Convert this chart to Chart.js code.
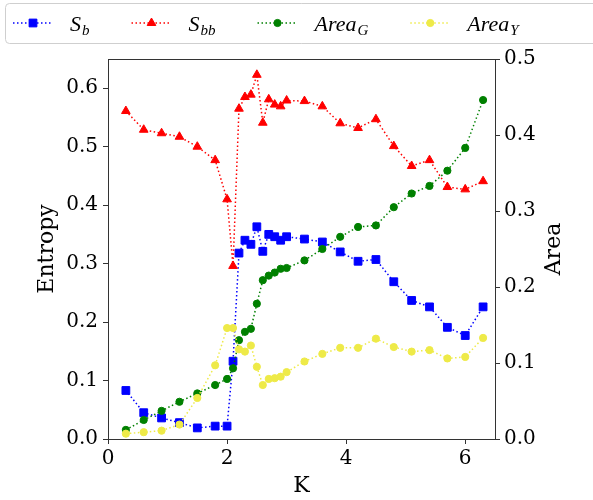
<!DOCTYPE html>
<html>
<head>
<meta charset="utf-8">
<script src="https://cdn.jsdelivr.net/npm/chart.js@4"></script>
<style>
  html, body { margin: 0; padding: 0; background: #fff; }
  #wrap { width: 593px; height: 500px; }
</style>
</head>
<body>
<div id="wrap"><canvas id="chart" width="593" height="500"></canvas></div>
<script>
// K values (x axis)
const kValues = [0.3, 0.6, 0.9, 1.2, 1.5, 1.8, 2.0, 2.1, 2.2, 2.3, 2.4, 2.5, 2.6, 2.7,
  2.8, 2.9, 3.0, 3.3, 3.6, 3.9, 4.2, 4.5, 4.8, 5.1, 5.4, 5.7, 6.0, 6.3];

// entropy series (left axis)
const entropyB = [0.083, 0.045, 0.036, 0.028, 0.019, 0.022, 0.022, 0.133, 0.318, 0.340,
  0.333, 0.363, 0.321, 0.350, 0.346, 0.340, 0.346, 0.342, 0.337, 0.320, 0.304, 0.307,
  0.269, 0.237, 0.226, 0.191, 0.177, 0.226];
const entropyBB = [0.561, 0.529, 0.523, 0.517, 0.500, 0.477, 0.410, 0.296, 0.565, 0.585,
  0.589, 0.623, 0.541, 0.581, 0.572, 0.569, 0.579, 0.578, 0.569, 0.540, 0.532, 0.547,
  0.501, 0.467, 0.477, 0.431, 0.427, 0.441];

// area series (right axis)
const areaG = [0.012, 0.025, 0.037, 0.049, 0.060, 0.071, 0.079, 0.093, 0.130, 0.141,
  0.145, 0.178, 0.209, 0.215, 0.219, 0.224, 0.225, 0.235, 0.250, 0.266, 0.279, 0.281,
  0.305, 0.323, 0.333, 0.353, 0.383, 0.446];
const areaY = [0.007, 0.009, 0.011, 0.019, 0.054, 0.097, 0.146, 0.146, 0.118, 0.115,
  0.123, 0.095, 0.071, 0.079, 0.080, 0.082, 0.088, 0.102, 0.112, 0.120, 0.120, 0.132,
  0.121, 0.115, 0.117, 0.106, 0.108, 0.133];

// tick labels
const kTicks = [0, 2, 4, 6];
const entropyTicks = [0.0, 0.1, 0.2, 0.3, 0.4, 0.5, 0.6];
const areaTicks = [0.0, 0.1, 0.2, 0.3, 0.4, 0.5];

// legend names: [base, subscript]
const seriesNames = [['S', 'b'], ['S', 'bb'], ['Area', 'G'], ['Area', 'Y']];

const axisColor = '#333';
const serif = "'DejaVu Serif', serif";

const pts = ys => kValues.map((k, i) => ({ x: k, y: ys[i] }));

function series(ys, name, color, style, radius, axis, order) {
  return {
    label: name.join('_'),
    name: name,
    data: pts(ys),
    yAxisID: axis,
    order: order,
    borderColor: color,
    backgroundColor: color,
    borderWidth: 1.5,
    borderDash: [1.5, 2.5],
    pointStyle: style,
    pointRadius: radius,
    pointHoverRadius: radius,
    pointBorderWidth: 1,
    pointBorderColor: color,
    pointBackgroundColor: color,
    tension: 0
  };
}

// fixed ticks from the arrays above
const fixTicks = list => scale => { scale.ticks = list.map(v => ({ value: v })); };

// top spine, right axis title, legend
const extras = {
  id: 'extras',
  afterDraw(chart) {
    const { ctx, chartArea: a } = chart;
    ctx.save();

    // top spine
    ctx.strokeStyle = axisColor;
    ctx.lineWidth = 1;
    ctx.beginPath();
    ctx.moveTo(a.left, a.top + 0.5);
    ctx.lineTo(a.right + 0.5, a.top + 0.5);
    ctx.stroke();

    // right axis title
    ctx.save();
    ctx.translate(chart.width - 39, (a.top + a.bottom) / 2);
    ctx.rotate(-Math.PI / 2);
    ctx.font = '22px ' + serif;
    ctx.fillStyle = '#000';
    ctx.textAlign = 'center';
    ctx.textBaseline = 'middle';
    ctx.fillText('Area', 0, 0);
    ctx.restore();

    // legend frame
    ctx.fillStyle = 'rgba(255,255,255,0.8)';
    ctx.strokeStyle = '#cfcfcf';
    ctx.beginPath();
    ctx.roundRect(5.5, 3.5, 600, 40, 4);
    ctx.fill();
    ctx.stroke();

    // legend items
    const cy = 23;
    let x = 13;
    chart.data.datasets.forEach(ds => {
      ctx.strokeStyle = ds.borderColor;
      ctx.fillStyle = ds.borderColor;
      ctx.lineWidth = 1.5;
      ctx.setLineDash(ds.borderDash);
      ctx.beginPath();
      ctx.moveTo(x, cy);
      ctx.lineTo(x + 40, cy);
      ctx.stroke();
      ctx.setLineDash([]);
      ctx.lineWidth = 1;
      Chart.helpers.drawPoint(ctx, {
        pointStyle: ds.pointStyle, radius: ds.pointRadius, rotation: 0, borderWidth: 1
      }, x + 20, cy);

      let tx = x + 57;
      ctx.fillStyle = '#000';
      ctx.textAlign = 'left';
      ctx.textBaseline = 'alphabetic';
      ctx.font = "italic 22px 'Liberation Serif', serif";
      ctx.fillText(ds.name[0], tx, 31);
      tx += ctx.measureText(ds.name[0]).width + 1;
      ctx.font = "italic 15px 'Liberation Serif', serif";
      ctx.fillText(ds.name[1], tx, 35);
      tx += ctx.measureText(ds.name[1]).width;
      x = tx + 42;
    });

    ctx.restore();
  }
};

const tickFont = { family: serif, size: 20 };
const titleFont = { family: serif, size: 22 };

new Chart(document.getElementById('chart'), {
  type: 'line',
  data: {
    datasets: [
      series(entropyB, seriesNames[0], '#0000ff', 'rect', 5.5, 'yEnt', 4),
      series(entropyBB, seriesNames[1], '#ff0000', 'triangle', 5, 'yEnt', 3),
      series(areaG, seriesNames[2], '#008000', 'circle', 3.6, 'yArea', 2),
      series(areaY, seriesNames[3], '#eeea48', 'circle', 3.6, 'yArea', 1)
    ]
  },
  options: {
    responsive: false,
    animation: false,
    layout: { padding: { top: 59, left: 0, right: 0, bottom: 0 } },
    plugins: { legend: { display: false }, tooltip: { enabled: false } },
    scales: {
      x: {
        type: 'linear',
        min: 0,
        max: 6.5,
        afterBuildTicks: fixTicks(kTicks),
        afterFit: s => { s.height = 61; },
        grid: { drawOnChartArea: false, tickLength: 5, color: axisColor },
        border: { color: axisColor },
        ticks: { font: tickFont, color: '#000', padding: 3, maxRotation: 0,
          callback: v => String(v) },
        title: { display: true, text: 'K', font: titleFont, color: '#000',
          padding: { top: 0, bottom: 1 } }
      },
      yEnt: {
        position: 'left',
        min: 0,
        max: 0.65,
        afterBuildTicks: fixTicks(entropyTicks),
        afterFit: s => { s.width = 108; },
        grid: { drawOnChartArea: false, tickLength: 5, color: axisColor },
        border: { color: axisColor },
        ticks: { font: tickFont, color: '#000', padding: 5, callback: v => v.toFixed(1) },
        title: { display: true, text: 'Entropy', font: titleFont, color: '#000',
          padding: { top: 34, bottom: 0 } }
      },
      yArea: {
        position: 'right',
        min: 0,
        max: 0.5,
        afterBuildTicks: fixTicks(areaTicks),
        afterFit: s => { s.width = 98; },
        grid: { drawOnChartArea: false, tickLength: 5, color: axisColor },
        border: { color: axisColor },
        ticks: { font: tickFont, color: '#000', padding: 4, callback: v => v.toFixed(1) }
      }
    }
  },
  plugins: [extras]
});
</script>
</body>
</html>
